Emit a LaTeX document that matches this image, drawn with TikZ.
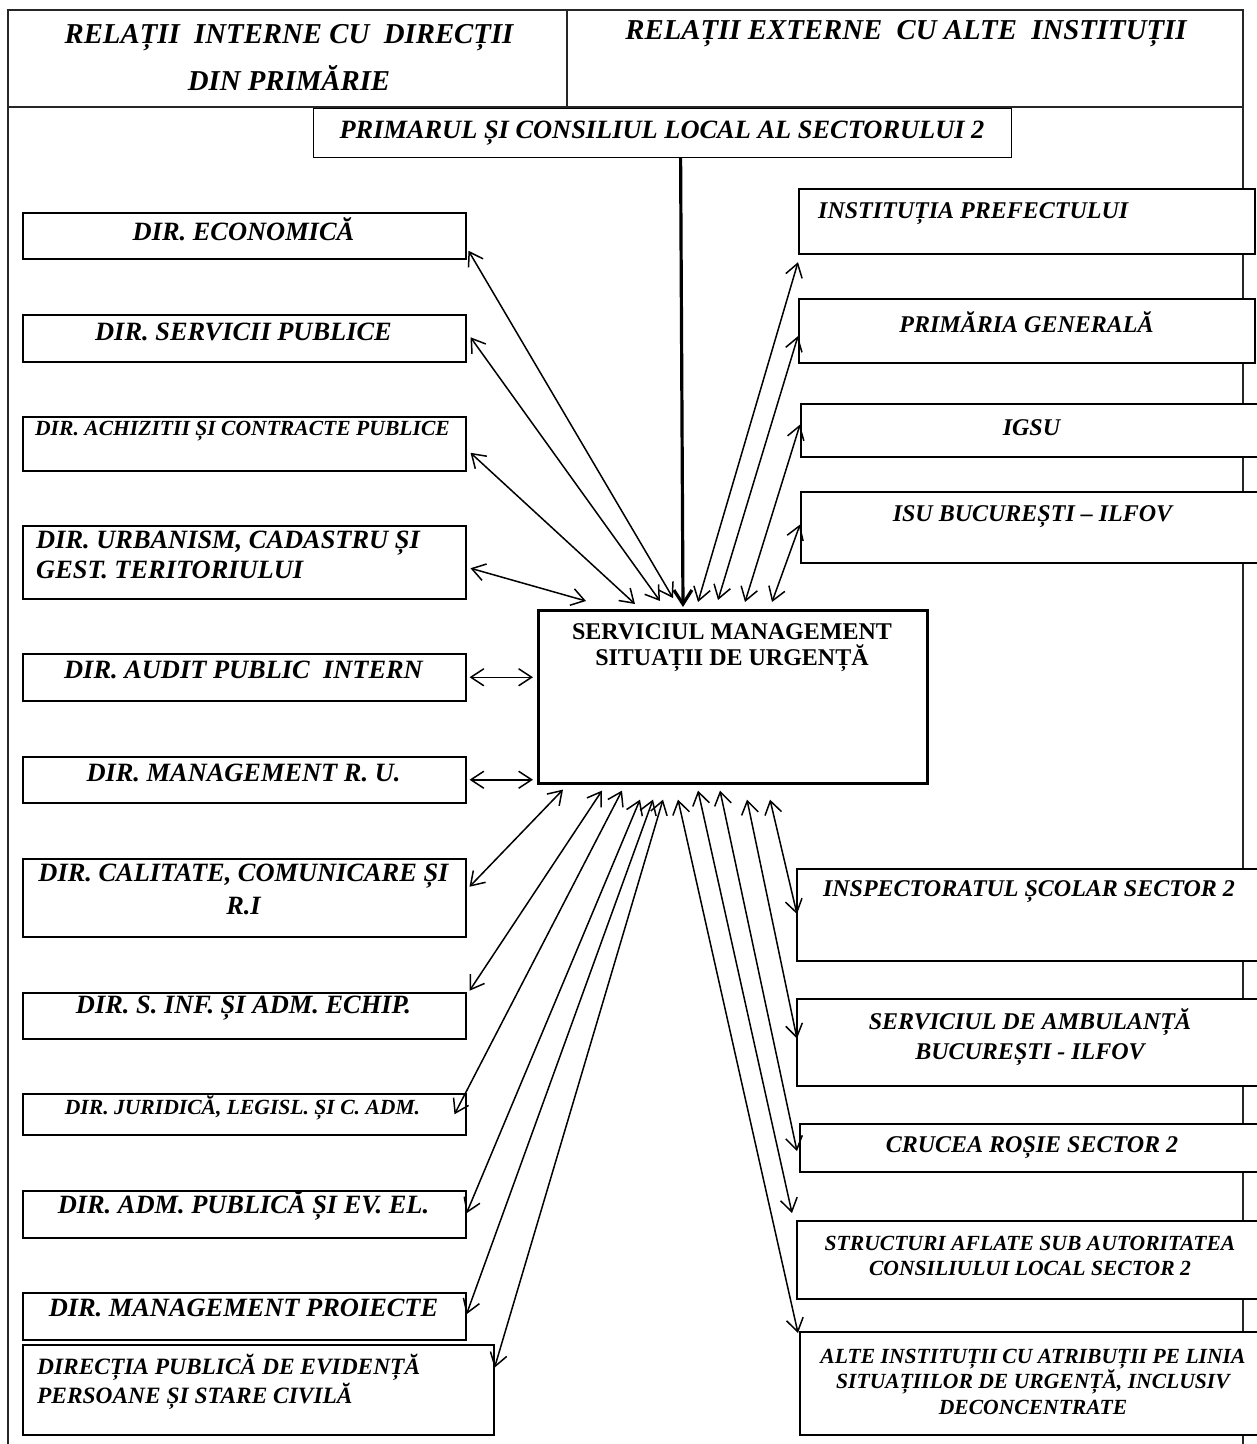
\documentclass[tikz,border=0pt]{standalone}
\usepackage{fontspec}
\setmainfont{Liberation Serif}
\usetikzlibrary{arrows.meta,positioning,calc}

\begin{document}
\begin{tikzpicture}[
  x=1pt, y=-1pt,
  >={Straight Barb[length=13pt,width=17pt]},
  % frame and boxes
  frame/.style = {line width=1.4pt, black!85},
  box/.style = {
    draw, fill=white,
    inner sep=0pt,
    anchor=north west,
    line width=1.5pt
  },
  rbox/.style = {box, line width=2.2pt},
  % texts
  hdr/.style  = {inner sep=0pt, align=center, font=\fontsize{28.8}{47}\selectfont\bfseries\itshape},
  ltxt/.style = {inner sep=0pt, align=center, font=\fontsize{26.4}{31}\selectfont\bfseries\itshape},
  rtxt/.style = {inner sep=0pt, align=center, font=\fontsize{24}{29.5}\selectfont\bfseries\itshape},
  stxt/.style = {inner sep=0pt, align=center, font=\fontsize{21.6}{25.5}\selectfont\bfseries\itshape},
  ctxt/.style = {inner sep=0pt, align=center, font=\fontsize{24}{26}\selectfont\bfseries},
  link/.style = {<->, line width=1.5pt}
]

\useasboundingbox (0,0) rectangle (1257,1444);

% ---- frame ----
\draw[frame] (8,1460) -- (8,10) -- (1243,10) -- (1243,1460);
\draw[frame] (8,107) -- (1243,107);
\draw[frame] (567,10) -- (567,107);

% ---- header ----
\node[hdr] (hint) at (289,57) {RELAȚII~ INTERNE CU~ DIRECȚII\\DIN PRIMĂRIE};
\node[hdr] (hext) at (906,33.5) {RELAȚII EXTERNE~ CU ALTE~ INSTITUȚII};

% ---- top and centre ----
\node[box, line width=1.2pt, minimum width=698pt, minimum height=49pt] (primar) at (313,108) {};
\node[ltxt] (primar-txt) at (662,133) {PRIMARUL ȘI CONSILIUL LOCAL AL SECTORULUI 2};

\node[box, line width=2.6pt, minimum width=389pt, minimum height=173pt] (smu) at (537,609) {};
\node[ctxt] (smu-txt) at (732,647.5) {SERVICIUL MANAGEMENT\\SITUAȚII DE URGENȚĂ};

% ---- left column: internal directions ----
\node[box, minimum width=443pt, minimum height=46pt] (eco) at (22,212) {};
\node[ltxt] (eco-txt) at (243.5,229) {DIR. ECONOMICĂ};

\node[box, minimum width=443pt, minimum height=47pt] (serv) at (22,314) {};
\node[ltxt] (serv-txt) at (243.5,331.5) {DIR. SERVICII PUBLICE};

\node[box, minimum width=443pt, minimum height=54pt] (achiz) at (22,416) {};
\node[stxt] (achiz-txt) at (242.5,431) {DIR. ACHIZITII ȘI CONTRACTE PUBLICE};

\node[box, minimum width=443pt, minimum height=73pt] (urb) at (22,525) {};
\node[ltxt, align=left, anchor=west, font=\fontsize{26.4}{29.5}\selectfont\bfseries\itshape] (urb-txt) at (36,555) {DIR. URBANISM, CADASTRU ȘI\\GEST. TERITORIULUI};

\node[box, minimum width=443pt, minimum height=47pt] (audit) at (22,653) {};
\node[ltxt] (audit-txt) at (243.5,670) {DIR. AUDIT PUBLIC~ INTERN};

\node[box, minimum width=443pt, minimum height=46pt] (mru) at (22,756) {};
\node[ltxt] (mru-txt) at (243.5,773) {DIR. MANAGEMENT R. U.};

\node[box, minimum width=443pt, minimum height=78pt] (calit) at (22,858) {};
\node[ltxt, font=\fontsize{26.4}{33}\selectfont\bfseries\itshape] (calit-txt) at (243.5,889.5) {DIR. CALITATE, COMUNICARE ȘI\\R.I};

\node[box, minimum width=443pt, minimum height=46pt] (sinf) at (22,992) {};
\node[ltxt] (sinf-txt) at (243.5,1008.5) {DIR. S. INF. ȘI ADM. ECHIP.};

\node[box, minimum width=443pt, minimum height=41pt] (jur) at (22,1093) {};
\node[stxt] (jur-txt) at (242.5,1107.5) {DIR. JURIDICĂ, LEGISL. ȘI C. ADM.};

\node[box, minimum width=443pt, minimum height=47pt] (admp) at (22,1190) {};
\node[ltxt] (admp-txt) at (243.5,1205) {DIR. ADM. PUBLICĂ ȘI EV. EL.};

\node[box, minimum width=443pt, minimum height=47pt] (mproj) at (22,1292) {};
\node[ltxt] (mproj-txt) at (243.5,1308) {DIR. MANAGEMENT PROIECTE};

\node[box, minimum width=471pt, minimum height=90pt] (dpe) at (22,1344) {};
\node[ltxt, align=left, anchor=west, font=\fontsize{23.4}{29}\selectfont\bfseries\itshape] (dpe-txt) at (37,1382) {DIRECȚIA PUBLICĂ DE EVIDENȚĂ\\PERSOANE ȘI STARE CIVILĂ};

% ---- right column: external institutions ----
\node[rbox, minimum width=456pt, minimum height=65pt] (pref) at (798,188) {};
\node[rtxt, anchor=west] (pref-txt) at (818,213.5) {INSTITUȚIA PREFECTULUI};

\node[rbox, minimum width=456pt, minimum height=64pt] (pgen) at (798,298) {};
\node[rtxt] (pgen-txt) at (1026.5,322.5) {PRIMĂRIA GENERALĂ};

\node[rbox, minimum width=470pt, minimum height=53pt] (igsu) at (800,403) {};
\node[rtxt] (igsu-txt) at (1031.5,427.5) {IGSU};

\node[rbox, minimum width=470pt, minimum height=71pt] (isu) at (800,491) {};
\node[rtxt] (isu-txt) at (1032.5,516.5) {ISU BUCUREȘTI – ILFOV};

\node[rbox, minimum width=474pt, minimum height=92pt] (insp) at (796,868) {};
\node[rtxt] (insp-txt) at (1029,891.5) {INSPECTORATUL ȘCOLAR SECTOR 2};

\node[rbox, minimum width=474pt, minimum height=87pt] (amb) at (796,998) {};
\node[rtxt] (amb-txt) at (1030,1037) {SERVICIUL DE AMBULANȚĂ\\BUCUREȘTI - ILFOV};

\node[rbox, minimum width=471pt, minimum height=48pt] (cruce) at (799,1123) {};
\node[rtxt] (cruce-txt) at (1032,1147.5) {CRUCEA ROȘIE SECTOR 2};

\node[rbox, minimum width=474pt, minimum height=78pt] (struct) at (796,1220) {};
\node[stxt] (struct-txt) at (1030,1256) {STRUCTURI AFLATE SUB AUTORITATEA\\CONSILIULUI LOCAL SECTOR 2};

\node[rbox, minimum width=471pt, minimum height=103pt] (alte) at (799,1331) {};
\node[stxt] (alte-txt) at (1033,1381.5) {ALTE INSTITUȚII CU ATRIBUȚII PE LINIA\\SITUAȚIILOR DE URGENȚĂ, INCLUSIV\\DECONCENTRATE};

% ---- arrows ----
% subordination
\draw[-{Straight Barb[length=14pt,width=18pt]}, line width=3.2pt] ($(primar.south)+(18,0)$) -- ($(smu.north west)+(146,-2)$);

% left, upper
\draw[link] ($(eco.east)+(2,15)$)   -- ($(smu.north west)+(136,-11)$);
\draw[link] ($(serv.east)+(4,-1)$)  -- ($(smu.north west)+(123,-8)$);
\draw[link] ($(achiz.east)+(4,9)$)  -- ($(smu.north west)+(98,-5)$);
\draw[link] ($(urb.east)+(4,6)$)    -- ($(smu.north west)+(49,-8)$);
\draw[link] ($(audit.east)+(3,0)$)  -- ($(audit.east -| smu.west)+(-4,0)$);
\draw[link] ($(mru.east)+(3,0)$)    -- ($(mru.east -| smu.west)+(-4,0)$);

% left, lower
\draw[link] ($(calit.east)+(3,-11)$) -- ($(smu.south west)+(26,5)$);
\draw[link] ($(sinf.east)+(3,-25)$)  -- ($(smu.south west)+(65,6)$);
\draw[link] ($(jur.east)+(-12,0)$)   -- ($(smu.south west)+(85,6)$);
\draw[link] ($(admp.east)+(0,-1)$)   -- ($(smu.south west)+(103,15)$);
\draw[link] ($(mproj.east)+(0,-2)$)  -- ($(smu.south west)+(116,15)$);
\draw[link] ($(dpe.east)+(0,-22)$)   -- ($(smu.south west)+(126,15)$);

% right, upper
\draw[link] ($(pref.south west)+(0,7)$) -- ($(smu.north west)+(161,-7)$);
\draw[link] ($(pgen.west)+(0,5)$)       -- ($(smu.north west)+(181,-9)$);
\draw[link] ($(igsu.west)+(0,-6)$)      -- ($(smu.north west)+(208,-7)$);
\draw[link] ($(isu.west)+(0,-3)$)       -- ($(smu.north west)+(235,-7)$);

% right, lower
\draw[link] ($(insp.west)+(1,-1)$)        -- ($(smu.south west)+(233,15)$);
\draw[link] ($(amb.west)+(1,-4)$)         -- ($(smu.south west)+(210,15)$);
\draw[link] ($(cruce.west)+(-2,3)$)       -- ($(smu.south west)+(183,6)$);
\draw[link] ($(struct.north west)+(-4,-7)$) -- ($(smu.south west)+(161,6)$);
\draw[link] ($(alte.north west)+(-1,2)$)  -- ($(smu.south west)+(141,15)$);

\end{tikzpicture}
\end{document}
